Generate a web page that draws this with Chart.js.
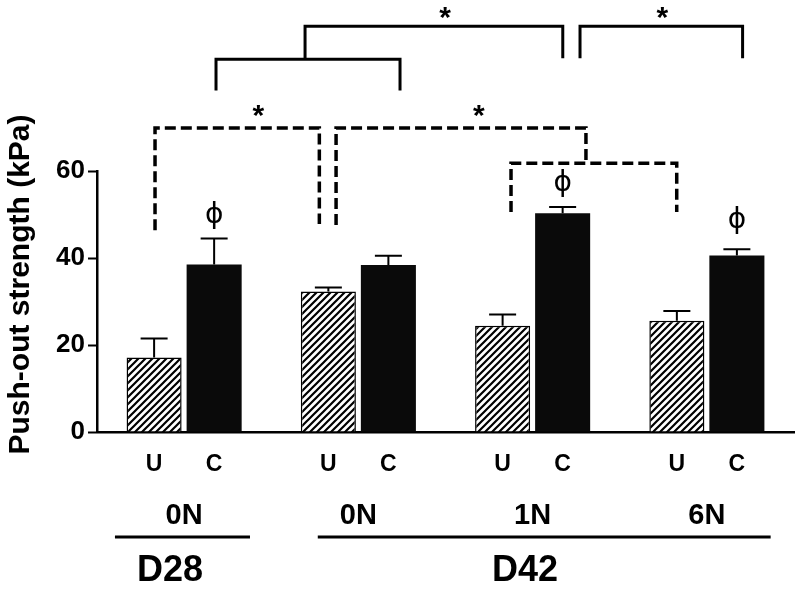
<!DOCTYPE html>
<html>
<head>
<meta charset="utf-8">
<script src="https://cdn.jsdelivr.net/npm/chart.js"></script>
<style>
  html, body { margin: 0; padding: 0; background: #fff; }
</style>
</head>
<body>
<canvas id="pushOutChart" width="800" height="593"></canvas>
<script>
// 데이터
const groups = ['0N', '0N', '1N', '6N'];
const days = ['D28', 'D42'];
const barKinds = ['U', 'C'];
const uValues = [17.1, 32.3, 24.4, 25.6];
const uErrors = [4.4, 0.9, 2.6, 2.2];
const cValues = [38.5, 38.4, 50.3, 40.6];
const cErrors = [6.0, 2.1, 1.4, 1.4];
const yTicks = [0, 20, 40, 60];

const FONT = '"Liberation Sans", Arial, sans-serif';

// 주석 위치: x 는 카테고리 인덱스(소수), y 는 kPa 값
const brackets = [
    { dash: false, pts: [[0.183, 78.5], [0.183, 85.7], [1.239, 85.7], [1.239, 78.5]] },
    { dash: false, pts: [[0.694, 85.7], [0.694, 93.3], [2.173, 93.3], [2.173, 85.9]] },
    { dash: false, pts: [[2.272, 85.9], [2.272, 93.3], [3.205, 93.3], [3.205, 85.9]] },
    { dash: true, pts: [[-0.167, 46.4], [-0.167, 69.9], [0.776, 69.9], [0.776, 47.8]] },
    { dash: true, pts: [[0.872, 47.6], [0.872, 69.9], [2.306, 69.9], [2.306, 61.8]] },
    { dash: true, pts: [[1.876, 50.6], [1.876, 61.8], [2.827, 61.8], [2.827, 50.6]] }
];
const stars = [[0.426, 73.9], [1.692, 73.9], [1.497, 96.4], [2.744, 96.4]];
const phiMarks = [[0, 49.9], [2, 57.3], [3, 48.7]];
const dayLines = [[-0.397, 0.378], [0.767, 3.366]];
const dayLabelPos = [-0.081, 1.956];

const canvas = document.getElementById('pushOutChart');
const ctx = canvas.getContext('2d');

// 빗금 패턴 만들기
function makeHatch() {
    const c = document.createElement('canvas');
    c.width = 7;
    c.height = 7;
    const g = c.getContext('2d');
    g.fillStyle = '#fff';
    g.fillRect(0, 0, 7, 7);
    g.strokeStyle = '#000';
    g.lineWidth = 2.2;
    g.beginPath();
    g.moveTo(-1, 8); g.lineTo(8, -1);
    g.moveTo(-1, 1); g.lineTo(1, -1);
    g.moveTo(6, 8); g.lineTo(8, 6);
    g.stroke();
    return ctx.createPattern(c, 'repeat');
}

// 글자 박스 중앙 맞추기
function drawCentered(g, text, cx, cy) {
    g.textAlign = 'center';
    g.textBaseline = 'alphabetic';
    const m = g.measureText(text);
    g.fillText(text, cx, cy + (m.actualBoundingBoxAscent - m.actualBoundingBoxDescent) / 2);
}

const extras = {
    id: 'extras',
    afterDatasetsDraw(chart) {
        const g = chart.ctx;
        const xs = chart.scales.x;
        const ys = chart.scales.y;
        const area = chart.chartArea;
        g.save();
        g.fillStyle = '#000';
        g.strokeStyle = '#000';

        // 오차 막대 (위쪽만)
        [[uValues, uErrors], [cValues, cErrors]].forEach(([vals, errs], di) => {
            chart.getDatasetMeta(di).data.forEach((bar, i) => {
                const top = ys.getPixelForValue(vals[i] + errs[i]);
                g.lineWidth = 2;
                g.beginPath();
                g.moveTo(bar.x, bar.y);
                g.lineTo(bar.x, top);
                g.moveTo(bar.x - 13.5, top);
                g.lineTo(bar.x + 13.5, top);
                g.stroke();
            });
        });

        // 유의성 괄호
        brackets.forEach(b => {
            g.lineWidth = b.dash ? 3.5 : 3;
            g.setLineDash(b.dash ? [11, 5] : []);
            g.beginPath();
            b.pts.forEach(([px, py], k) => {
                const X = xs.getPixelForValue(px);
                const Y = ys.getPixelForValue(py);
                if (k === 0) g.moveTo(X, Y); else g.lineTo(X, Y);
            });
            g.stroke();
        });
        g.setLineDash([]);

        g.font = 'bold 30px ' + FONT;
        stars.forEach(([px, py]) => {
            drawCentered(g, '*', xs.getPixelForValue(px), ys.getPixelForValue(py));
        });

        g.font = '28px "DejaVu Sans"';
        const cMeta = chart.getDatasetMeta(1).data;
        phiMarks.forEach(([i, py]) => {
            drawCentered(g, '\u03D5', cMeta[i].x, ys.getPixelForValue(py));
        });

        // x 축 아래 라벨
        g.font = 'bold 23px ' + FONT;
        [0, 1].forEach(di => {
            chart.getDatasetMeta(di).data.forEach(bar => {
                drawCentered(g, barKinds[di], bar.x, area.bottom + 30);
            });
        });
        g.font = 'bold 29px ' + FONT;
        groups.forEach((lab, i) => {
            drawCentered(g, lab, xs.getPixelForValue(i), area.bottom + 82);
        });
        g.lineWidth = 3;
        dayLines.forEach(([a, b]) => {
            g.beginPath();
            g.moveTo(xs.getPixelForValue(a), area.bottom + 105);
            g.lineTo(xs.getPixelForValue(b), area.bottom + 105);
            g.stroke();
        });
        g.font = 'bold 36px ' + FONT;
        days.forEach((lab, i) => {
            drawCentered(g, lab, xs.getPixelForValue(dayLabelPos[i]), area.bottom + 136);
        });

        // y 축 제목
        g.translate(21, (area.top + area.bottom) / 2 - 17);
        g.rotate(-Math.PI / 2);
        g.font = 'bold 30px ' + FONT;
        drawCentered(g, 'Push-out strength (kPa)', 0, 0);
        g.restore();
    }
};

new Chart(ctx, {
    type: 'bar',
    data: {
        labels: groups,
        datasets: [
            {
                label: 'U',
                data: uValues,
                backgroundColor: makeHatch(),
                borderColor: '#000',
                borderWidth: 1.5,
                categoryPercentage: 0.689,
                barPercentage: 0.917
            },
            {
                label: 'C',
                data: cValues,
                backgroundColor: '#0a0a0a',
                borderWidth: 0,
                categoryPercentage: 0.689,
                barPercentage: 0.917
            }
        ]
    },
    options: {
        responsive: false,
        animation: false,
        layout: { padding: { top: 171, right: 6, left: 0, bottom: 0 } },
        plugins: {
            legend: { display: false },
            tooltip: { enabled: false }
        },
        scales: {
            x: {
                ticks: { display: false },
                grid: { display: false },
                border: { display: true, color: '#000', width: 2.5 },
                afterFit(s) {
                    s.height = 161;
                    s.paddingLeft = 0;
                    s.paddingRight = 0;
                }
            },
            y: {
                min: 0,
                max: 60,
                afterBuildTicks(s) {
                    s.ticks = yTicks.map(v => ({ value: v }));
                },
                ticks: {
                    color: '#000',
                    padding: 3,
                    font: { family: FONT, size: 26, weight: 'bold' }
                },
                grid: {
                    drawOnChartArea: false,
                    drawTicks: true,
                    tickLength: 9,
                    tickWidth: 2,
                    color: '#000'
                },
                border: { display: true, color: '#000', width: 2.5 },
                afterFit(s) {
                    s.width = 97;
                    s.paddingTop = 0;
                    s.paddingBottom = 0;
                }
            }
        }
    },
    plugins: [extras]
});
</script>
</body>
</html>
